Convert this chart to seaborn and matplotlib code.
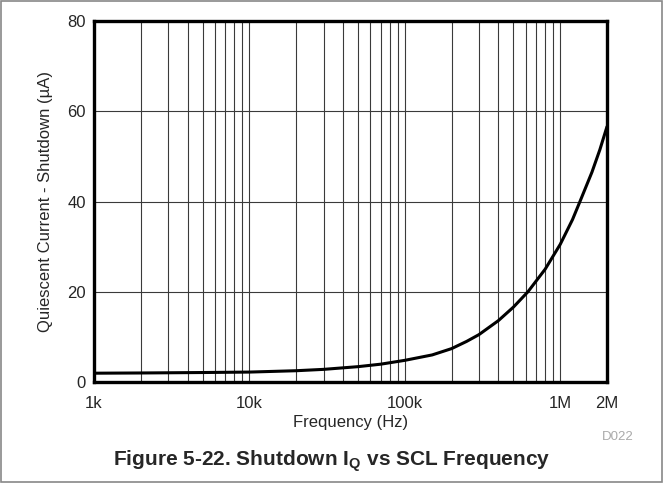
import numpy as np
import pandas as pd
import matplotlib
matplotlib.use("Agg")
import matplotlib.pyplot as plt
import seaborn as sns
from matplotlib.ticker import FixedLocator, NullFormatter, LogLocator

# curve
freq_hz = [1e3, 2e3, 5e3, 1e4, 2e4, 3e4, 5e4, 7e4, 1e5, 1.5e5, 2e5, 2.5e5, 3e5, 4e5,
           5e5, 6.2e5, 8e5, 1e6, 1.2e6, 1.34e6, 1.6e6, 1.8e6, 2e6]
iq_ua = [1.95, 2.0, 2.1, 2.2, 2.5, 2.8, 3.4, 3.95, 4.8, 6.0, 7.4, 9.0, 10.5, 13.6,
         16.6, 20.0, 25.0, 30.5, 36.0, 40.0, 46.5, 51.5, 56.6]

x_ticks = [1e3, 1e4, 1e5, 1e6, 2e6]
x_labels = ["1k", "10k", "100k", "1M", "2M"]
y_ticks = [0, 20, 40, 60, 80]

df = pd.DataFrame({"freq": freq_hz, "iq": iq_ua})

sns.set_style("white")
plt.rcParams["font.family"] = ["Liberation Sans", "DejaVu Sans"]
plt.rcParams["mathtext.fontset"] = "custom"
plt.rcParams["mathtext.rm"] = "Liberation Sans"
plt.rcParams["mathtext.bf"] = "Liberation Sans:bold"

fig = plt.figure(figsize=(6.63, 4.83), dpi=100)
ax = fig.add_axes([94 / 663, 1 - 382 / 483, 513 / 663, 361 / 483])

sns.lineplot(data=df, x="freq", y="iq", ax=ax, color="black", linewidth=2.2)

ax.set_xscale("log")
ax.set_xlim(1e3, 2e6)
ax.set_ylim(0, 80)

ax.xaxis.set_major_locator(FixedLocator(x_ticks))
ax.set_xticklabels(x_labels)
ax.xaxis.set_minor_locator(LogLocator(base=10, subs=np.arange(2, 10)))
ax.xaxis.set_minor_formatter(NullFormatter())
ax.set_yticks(y_ticks)

ax.grid(True, which="both", axis="x", color="#3a3a3a", linewidth=0.8)
ax.grid(True, which="major", axis="y", color="#3a3a3a", linewidth=0.8)
ax.tick_params(which="both", length=0, labelsize=12)
ax.tick_params(axis="x", pad=10)
ax.tick_params(axis="y", pad=6)

for s in ax.spines.values():
    s.set_linewidth(2.4)
    s.set_color("black")

ax.set_xlabel("Frequency (Hz)", fontsize=12, labelpad=3)
ax.set_ylabel("Quiescent Current - Shutdown (\u00b5A)", fontsize=12, labelpad=10)

fig.text(618 / 663, 1 - 437 / 483, "D022", color="#aaaaaa", fontsize=9.5,
         ha="center", va="center")
fig.text(0.5, 1 - 461 / 483, r"Figure 5-22. Shutdown I$_\mathbf{Q}$ vs SCL Frequency",
         fontsize=15, fontweight="bold", ha="center", va="center")

# outer frame of the figure
frame = plt.Rectangle((0.001, 0.003), 0.997, 0.994, transform=fig.transFigure,
                      fill=False, edgecolor="#888888", linewidth=1.2)
fig.patches.append(frame)

fig.savefig("out.png", dpi=100)
